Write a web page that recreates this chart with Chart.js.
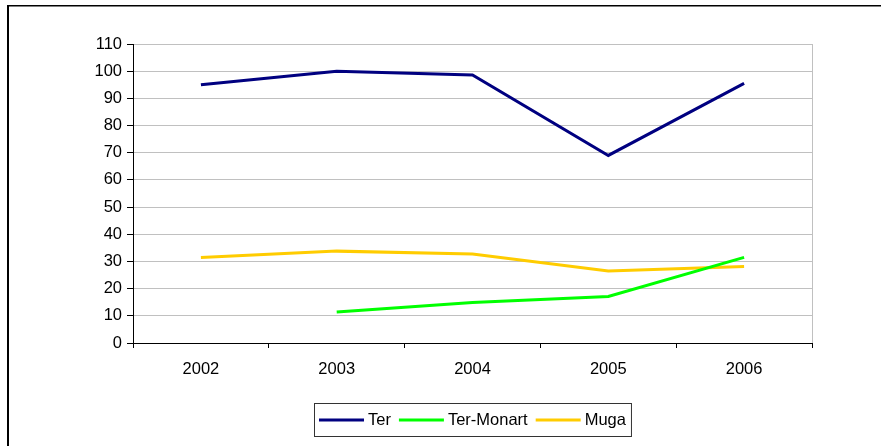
<!DOCTYPE html>
<html>
<head>
<meta charset="utf-8">
<script src="https://cdn.jsdelivr.net/npm/chart.js@4.4.0/dist/chart.umd.min.js"></script>
<style>
  html, body { margin: 0; padding: 0; background: #fff; }
  #wrap { position: relative; width: 881px; height: 446px; }
</style>
</head>
<body>
<div id="wrap"><canvas id="myChart" width="881" height="446"></canvas></div>
<script>
// data
const years = ['2002', '2003', '2004', '2005', '2006']
const ter = [95, 100, 98.6, 69, 95.5]
const terMonart = [null, 11.4, 14.9, 17.1, 31.5]
const muga = [31.5, 33.8, 32.7, 26.5, 28.1]

const FONT = 'Liberation Sans, Arial, sans-serif'
const FSIZE = 16.5

// outer frame + right edge of plot + boxed legend at the bottom
const extras = {
    id: 'extras',
    beforeDraw(chart) {
        const ctx = chart.ctx
        ctx.save()
        ctx.fillStyle = '#fff'
        ctx.fillRect(0, 0, chart.width, chart.height)
        ctx.fillStyle = '#000'
        ctx.fillRect(7, 5, 2, chart.height)
        ctx.fillRect(7, 5, chart.width, 1.5)
        ctx.restore()
    },
    afterDraw(chart) {
        const ctx = chart.ctx
        const a = chart.chartArea
        ctx.save()
        ctx.strokeStyle = '#c0c0c0'
        ctx.lineWidth = 1
        ctx.beginPath()
        ctx.moveTo(a.right + 0.5, a.top)
        ctx.lineTo(a.right + 0.5, a.bottom)
        ctx.stroke()

        // legend
        ctx.font = FSIZE + 'px ' + FONT
        const sample = 45, gapText = 4, gapItem = 8, pad = 5
        const items = chart.data.datasets.map(d => ({ label: d.label, color: d.borderColor, w: ctx.measureText(d.label).width }))
        let total = pad * 2
        items.forEach((it, i) => { total += sample + gapText + it.w + (i ? gapItem : 0) })
        const boxX = Math.round(472 - total / 2), boxY = 403, boxH = 33
        ctx.strokeStyle = '#333'
        ctx.lineWidth = 1
        ctx.strokeRect(boxX + 0.5, boxY + 0.5, total, boxH)
        let x = boxX + pad
        const cy = boxY + boxH / 2 + 0.5
        ctx.textBaseline = 'middle'
        ctx.fillStyle = '#000'
        items.forEach((it, i) => {
            if (i) x += gapItem
            ctx.strokeStyle = it.color
            ctx.lineWidth = 3
            ctx.beginPath()
            ctx.moveTo(x, cy)
            ctx.lineTo(x + sample, cy)
            ctx.stroke()
            x += sample + gapText
            ctx.fillText(it.label, x, cy)
            x += it.w
        })
        ctx.restore()
    }
}

const ctx = document.getElementById('myChart')
new Chart(ctx, {
    type: 'line',
    data: {
        labels: years,
        datasets: [
            { label: 'Ter', data: ter, borderColor: '#000080' },
            { label: 'Ter-Monart', data: terMonart, borderColor: '#00ff00' },
            { label: 'Muga', data: muga, borderColor: '#ffcc00' }
        ].map(d => Object.assign(d, { borderWidth: 3, pointRadius: 0, tension: 0, fill: false, spanGaps: false }))
    },
    options: {
        responsive: false,
        animation: false,
        layout: { padding: { left: 0, top: 44, right: 69, bottom: 63 } },
        plugins: { legend: { display: false }, tooltip: { enabled: false } },
        scales: {
            x: {
                offset: true,
                grid: { offset: true, drawOnChartArea: false, tickLength: 5, color: '#000' },
                border: { color: '#000', width: 1 },
                ticks: { color: '#000', font: { family: FONT, size: FSIZE }, padding: 12, maxRotation: 0 },
                afterFit: s => { s.height = 40 }
            },
            y: {
                min: 0,
                max: 110,
                ticks: { stepSize: 10, color: '#000', font: { family: FONT, size: FSIZE }, padding: 5 },
                grid: { color: '#c0c0c0', tickColor: '#000', tickLength: 6 },
                border: { color: '#000', width: 1 },
                afterFit: s => { s.width = 133 }
            }
        }
    },
    plugins: [extras]
})
</script>
</body>
</html>
